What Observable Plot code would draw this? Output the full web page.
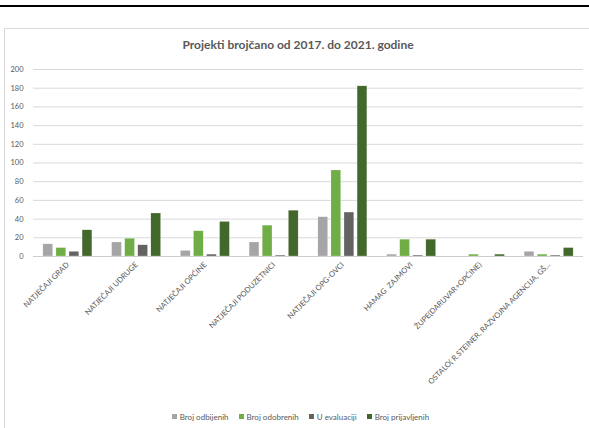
<!DOCTYPE html>
<html><head><meta charset="utf-8">
<script src="https://cdn.jsdelivr.net/npm/d3@7"></script>
<script src="https://cdn.jsdelivr.net/npm/@observablehq/plot@0.6"></script>
<style>
body{margin:0;background:#fff;width:589px;height:428px;overflow:hidden;position:relative;font-family:Lato,sans-serif;}
#legend{position:absolute;left:0;width:601px;top:412px;display:flex;justify-content:center;gap:10px;font-size:8px;color:#595959;}
#legend span.sw{display:inline-block;width:5px;height:5px;margin-right:3px;vertical-align:middle;position:relative;top:-1px}
.layer{position:absolute;left:0;top:60px}
</style></head><body>
<div style="position:absolute;left:0;top:5px;width:589px;height:2px;background:#000"></div>
<div style="position:absolute;left:4px;top:28px;width:620px;height:420px;border:1px solid #d9d9d9;box-sizing:border-box"></div>
<div id="title" style="position:absolute;left:0;width:596px;top:37px;text-align:center;font-weight:bold;font-size:12px;color:#595959">Projekti brojčano od 2017. do 2021. godine</div>
<div id="grid" class="layer"></div>
<div id="chart" class="layer"></div>
<div id="legend"></div>
<script>
const categories = ["NATJEČAJI GRAD","NATJEČAJI UDRUGE","NATJEČAJI OPĆINE","NATJEČAJI PODUZETNICI","NATJEČAJI OPG-OVCI","HAMAG  ZAJMOVI","ŽUPE(DARUVAR+OPĆINE)","OSTALO( R.STEINER, RAZVOJNA AGENCIJA, GŠ..."];
const series = ["Broj odbijenih","Broj odobrenih","U evaluaciji","Broj prijavljenih"];
const odbijenih   = [13, 15,  6, 15,  42,  2, 0, 5];
const odobrenih   = [ 9, 19, 27, 33,  92, 18, 2, 2];
const evaluaciji  = [ 5, 12,  2,  1,  47,  1, 0, 1];
const prijavljenih= [28, 46, 37, 49, 182, 18, 2, 9];
const yTicks = [0,20,40,60,80,100,120,140,160,180,200];
const colors = ["#a5a5a5","#70ad47","#636363","#43682b"];

const valuesBySeries = [odbijenih, odobrenih, evaluaciji, prijavljenih];
const data = [];
categories.forEach((c, i) => series.forEach((s, j) => data.push({category: c, series: s, value: valuesBySeries[j][i]})));

const frame = {width: 589, height: 340, marginTop: 9, marginBottom: 144, marginLeft: 33, marginRight: 6};
const style = {fontFamily: 'Lato,sans-serif', color: "#595959", background: "transparent"};

const grid = Plot.plot({
  ...frame, style,
  y: {domain: [0, 200], axis: null},
  marks: [
    Plot.ruleY(yTicks.slice(1), {stroke: "#d9d9d9", strokeWidth: 1}),
    Plot.ruleY([0], {stroke: "#cccccc", strokeWidth: 1}),
    Plot.axisY(yTicks, {tickSize: 0, tickPadding: 10, fontSize: 7.5, fill: "#595959", label: null})
  ]
});
document.getElementById("grid").appendChild(grid);

const plot = Plot.plot({
  ...frame, style,
  fx: {domain: categories, paddingInner: 0.287, paddingOuter: 0.1435, round: false, label: null, axis: null},
  x: {domain: series, paddingInner: 0.25, paddingOuter: 0, round: false, axis: null},
  y: {domain: [0, 200], axis: null},
  color: {domain: series, range: colors},
  marks: [
    Plot.axisFx({anchor: "bottom", tickRotate: -45, tickSize: 0, tickPadding: 7, fontSize: 7.6, fill: "#595959", label: null}),
    Plot.barY(data, {fx: "category", x: "series", y: "value", fill: "series", stroke: "#ffffff", strokeWidth: 0.4, strokeOpacity: 0.6})
  ]
});
document.getElementById("chart").appendChild(plot);

const legend = document.getElementById("legend");
series.forEach((s, j) => {
  const item = document.createElement("div");
  item.innerHTML = `<span class="sw" style="background:${colors[j]}"></span>${s}`;
  legend.appendChild(item);
});
</script>
</body></html>
